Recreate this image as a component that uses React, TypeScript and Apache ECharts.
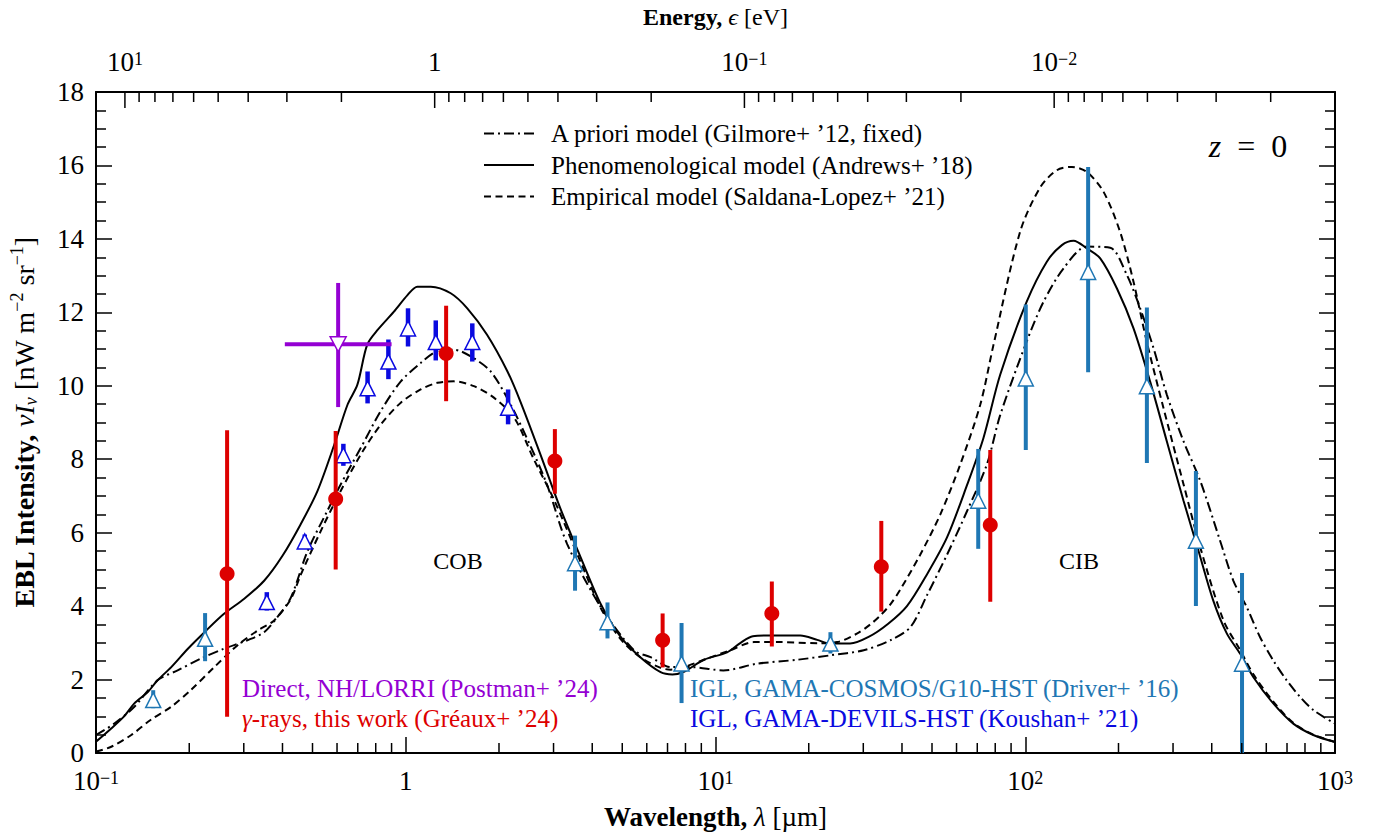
import React, { useEffect, useRef } from 'react';
import * as echarts from 'echarts';

const FONT = '"Liberation Serif", "DejaVu Serif", serif';

// ---- Model curves: wavelength [um], intensity [nW m^-2 sr^-1]
const gilmoreWl = [0.1, 0.1146, 0.133, 0.158, 0.1834, 0.218, 0.259, 0.308, 0.349, 0.385, 0.426, 0.482, 0.558, 0.617, 0.716, 0.83, 0.964, 1.117, 1.265, 1.432, 1.622, 1.88, 2.18, 2.53, 2.86, 3.32, 4.26, 5.45, 6.17, 7.16, 8.3, 10.6, 13.6, 18.4, 23.5, 30.1, 36.7, 42.6, 48.2, 55.9, 64.9, 75.2, 83.0, 101.1, 114.6, 133.0, 158.1, 188.0, 212.8, 234.9, 259.4, 286.4, 324.3, 367.3, 425.6, 469.9, 519.0, 572.5, 632.0, 698.2, 771.0, 851.1, 1000];
const gilmoreI = [0.49, 0.8, 1.26, 1.98, 2.25, 2.57, 2.84, 3.07, 3.29, 3.7, 4.24, 5.5, 6.59, 7.32, 8.31, 9.31, 10.12, 10.62, 10.94, 10.98, 10.8, 10.39, 9.49, 8.35, 7.3, 5.69, 3.98, 2.8, 2.61, 2.34, 2.34, 2.25, 2.43, 2.54, 2.66, 2.8, 3.07, 3.43, 4.3, 5.4, 6.59, 7.86, 9.2, 11.21, 12.29, 13.2, 13.79, 13.76, 13.02, 12.11, 11.03, 9.76, 8.49, 7.41, 5.78, 4.69, 3.97, 3.16, 2.52, 1.98, 1.53, 1.17, 0.8];

const andrewsWl = [0.1, 0.112, 0.123, 0.133, 0.147, 0.158, 0.175, 0.198, 0.224, 0.259, 0.301, 0.349, 0.4, 0.458, 0.519, 0.588, 0.649, 0.698, 0.751, 0.811, 0.916, 1.013, 1.09, 1.205, 1.397, 1.58, 1.83, 2.13, 2.35, 2.73, 3.16, 3.67, 4.26, 4.94, 5.73, 6.65, 7.26, 7.94, 9.17, 10.9, 12.05, 13.2, 15.0, 18.8, 21.3, 23.5, 27.2, 31.2, 36.1, 41.5, 48.2, 55.9, 64.9, 73.3, 83.0, 101.1, 117.4, 131.3, 143.2, 158.1, 174.6, 197.7, 223.5, 252.9, 286.4, 324.3, 362.4, 404.6, 447.7, 494.3, 544.6, 632.0, 733.3, 851.1, 1000];
const andrewsI = [0.31, 0.67, 0.99, 1.35, 1.66, 1.98, 2.34, 2.84, 3.29, 3.79, 4.2, 4.69, 5.37, 6.23, 7.14, 8.4, 9.49, 10.03, 11.12, 11.52, 12.02, 12.47, 12.7, 12.7, 12.52, 12.11, 11.39, 10.39, 9.55, 8.1, 6.65, 5.33, 4.06, 3.16, 2.6, 2.2, 2.14, 2.22, 2.54, 2.74, 3.0, 3.18, 3.2, 3.2, 3.08, 2.98, 2.98, 3.16, 3.52, 4.0, 4.87, 5.87, 7.3, 8.58, 10.3, 12.29, 13.38, 13.83, 13.95, 13.74, 13.47, 12.65, 11.57, 10.12, 8.49, 6.87, 5.51, 4.15, 3.25, 2.7, 2.07, 1.35, 0.8, 0.49, 0.3];

const saldanaWl = [0.1, 0.112, 0.13, 0.15, 0.175, 0.202, 0.241, 0.286, 0.333, 0.376, 0.426, 0.458, 0.532, 0.617, 0.716, 0.83, 0.964, 1.117, 1.265, 1.432, 1.66, 1.93, 2.24, 2.59, 3.01, 3.67, 4.26, 4.94, 5.73, 6.65, 7.16, 7.91, 9.4, 11.17, 13.3, 16.2, 21.3, 24.7, 28.6, 31.6, 34.1, 36.7, 39.5, 45.8, 53.2, 61.7, 71.6, 78.9, 96.3, 111.7, 126.5, 141.5, 158.1, 179.0, 202.4, 223.5, 246.6, 279.3, 324.3, 367.3, 436.5, 494.3, 544.6, 632.0, 733.3, 851.1, 1000];
const saldanaI = [0.04, 0.17, 0.49, 0.9, 1.26, 1.71, 2.34, 2.93, 3.34, 3.61, 4.2, 4.85, 6.05, 7.14, 8.13, 8.94, 9.54, 9.9, 10.08, 10.12, 9.99, 9.67, 9.13, 8.0, 6.9, 5.2, 3.95, 3.1, 2.6, 2.32, 2.27, 2.34, 2.57, 2.8, 3.02, 3.02, 2.99, 3.02, 3.25, 3.5, 3.75, 4.05, 4.45, 5.4, 6.5, 7.86, 9.49, 11.1, 14.2, 15.4, 15.87, 15.96, 15.82, 15.28, 14.19, 12.84, 11.21, 9.4, 7.32, 5.6, 3.61, 2.8, 2.15, 1.4, 0.82, 0.5, 0.3];

// ---- Data points
const grWl = [0.265, 0.594, 1.35, 3.03, 6.75, 15.2, 34.3, 77.1];
const grI = [4.88, 6.92, 10.88, 7.95, 3.07, 3.8, 5.07, 6.21];
const grLo = [0.99, 5.0, 9.58, 7.06, 2.33, 2.9, 3.85, 4.12];
const grHi = [8.79, 8.77, 12.18, 8.82, 3.8, 4.67, 6.32, 8.25];

const lorriWl = [0.605];
const lorriI = [11.13];
const lorriLo = [9.42];
const lorriHi = [12.8];
const lorriWlLo = [0.407];
const lorriWlHi = [0.9];

const koushanWl = [0.356, 0.472, 0.629, 0.753, 0.879, 1.017, 1.25, 1.64, 2.14];
const koushanI = [4.11, 5.76, 8.11, 9.93, 10.66, 11.56, 11.19, 11.19, 9.4];
const koushanLo = [3.88, 5.6, 7.82, 9.52, 10.18, 11.07, 10.69, 10.66, 8.95];
const koushanHi = [4.38, 5.95, 8.42, 10.39, 11.26, 12.11, 11.78, 11.7, 9.9];

const driverWl = [0.153, 0.225, 3.52, 4.48, 7.77, 23.5, 70.5, 100.4, 159.6, 247, 355.6, 501];
const driverI = [1.44, 3.11, 5.17, 3.56, 2.44, 2.98, 6.87, 10.2, 13.1, 9.99, 5.78, 2.43];
const driverLo = [1.22, 2.5, 4.42, 3.12, 1.36, 2.71, 5.56, 8.25, 10.37, 7.9, 4.0, 0];
const driverHi = [1.71, 3.81, 5.92, 4.1, 3.54, 3.29, 8.28, 12.21, 15.96, 12.13, 7.68, 4.9];

// ---- Axis ticks
const wlMinorTicks = [0.2, 0.3, 0.4, 0.5, 0.6, 0.7, 0.8, 0.9, 2, 3, 4, 5, 6, 7, 8, 9, 20, 30, 40, 50, 60, 70, 80, 90, 200, 300, 400, 500, 600, 700, 800, 900];
const eMajorTicks = [10, 1, 0.1, 0.01];
const eMinorTicks = [9, 8, 7, 6, 5, 4, 3, 2, 0.9, 0.8, 0.7, 0.6, 0.5, 0.4, 0.3, 0.2, 0.09, 0.08, 0.07, 0.06, 0.05, 0.04, 0.03, 0.02, 0.009, 0.008, 0.007, 0.006, 0.005, 0.004, 0.003, 0.002];
const HC = 1.23984; // eV um

const RED = '#dd0000';
const PURPLE = '#9400d3';
const LBLUE = '#1f77b4';
const DBLUE = '#0a0ae0';

const LEG = [
  'A priori model (Gilmore+ ’12, fixed)',
  'Phenomenological model (Andrews+ ’18)',
  'Empirical model (Saldana-Lopez+ ’21)',
];

const pairs = (a: number[], b: number[]) => a.map((v, i) => [v, b[i]]);

const tickRich = {
  n: { fontSize: 27, fontFamily: FONT, color: '#000', lineHeight: 24 },
  s: { fontSize: 18, fontFamily: FONT, color: '#000', verticalAlign: 'top', lineHeight: 13 },
};
const powLabel = (v: number) => {
  const e = Math.round(Math.log10(v));
  if (e === 0) return '{n|1}';
  return `{n|10}{s|${e < 0 ? '−' : ''}${Math.abs(e)}}`;
};

function errSeries(wl: number[], lo: number[], hi: number[], color: string, width: number, z: number) {
  return {
    type: 'custom',
    xAxisIndex: 0,
    yAxisIndex: 0,
    z,
    silent: true,
    data: wl.map((w, i) => [w, lo[i], hi[i]]),
    encode: { x: 0, y: [1, 2] },
    renderItem: (_p: any, api: any) => {
      const a = api.coord([api.value(0), api.value(1)]);
      const b = api.coord([api.value(0), api.value(2)]);
      return { type: 'line', shape: { x1: a[0], y1: a[1], x2: b[0], y2: b[1] }, style: { stroke: color, lineWidth: width } };
    },
  };
}

function tickSeries(vals: number[], xAxisIndex: number, yVal: number, dir: number, len: number) {
  return {
    type: 'custom',
    xAxisIndex,
    yAxisIndex: 0,
    z: 20,
    silent: true,
    data: vals.map((v) => [v, yVal]),
    encode: { x: 0, y: 1 },
    renderItem: (_p: any, api: any) => {
      const a = api.coord([api.value(0), api.value(1)]);
      return { type: 'line', shape: { x1: a[0], y1: a[1], x2: a[0], y2: a[1] + dir * len }, style: { stroke: '#000', lineWidth: 1.5 } };
    },
  };
}

const nameRich = (size: number) => ({
  b: { fontFamily: FONT, fontSize: size, fontWeight: 'bold', color: '#000' },
  i: { fontFamily: FONT, fontSize: size, fontStyle: 'italic', color: '#000' },
  r: { fontFamily: FONT, fontSize: size, color: '#000' },
});

function buildOption(): any {
  const yCommon = {
    type: 'value',
    min: 0,
    max: 18,
    interval: 2,
    axisLine: { show: true, onZero: false, lineStyle: { color: '#000', width: 2 } },
    axisTick: { show: true, inside: true, length: 16, lineStyle: { color: '#000', width: 1.5 } },
    minorTick: { show: true, splitNumber: 4, length: 10, lineStyle: { color: '#000', width: 1.5 } },
    splitLine: { show: false },
  };
  return {
    animation: false,
    backgroundColor: '#fff',
    grid: { left: 95, right: 52, top: 89, bottom: 87, containLabel: false },
    legend: {
      data: LEG,
      orient: 'vertical',
      left: 478,
      top: 116,
      itemWidth: 50,
      itemHeight: 14,
      itemGap: 6.5,
      selectedMode: false,
      itemStyle: { color: 'rgba(0,0,0,0)', borderColor: 'rgba(0,0,0,0)', borderWidth: 0, opacity: 0 },
      textStyle: { fontFamily: FONT, fontSize: 25, color: '#000', lineHeight: 25, padding: [0, 0, 0, 12] },
    },
    xAxis: [
      {
        type: 'log',
        logBase: 10,
        min: 0.1,
        max: 1000,
        position: 'bottom',
        axisLine: { show: true, onZero: false, lineStyle: { color: '#000', width: 2 } },
        axisTick: { show: true, inside: true, length: 16, lineStyle: { color: '#000', width: 1.5 } },
        splitLine: { show: false },
        axisLabel: { formatter: powLabel, rich: tickRich, margin: 16, color: '#000' },
        name: '{b|Wavelength,} {i|λ} {r|[µm]}',
        nameLocation: 'middle',
        nameGap: 50,
        nameTextStyle: { fontFamily: FONT, fontSize: 27, color: '#000', rich: nameRich(27) },
      },
      {
        type: 'log',
        logBase: 10,
        min: HC / 1000,
        max: HC / 0.1,
        inverse: true,
        position: 'top',
        axisLine: { show: true, onZero: false, lineStyle: { color: '#000', width: 2 } },
        axisTick: { show: false },
        splitLine: { show: false },
        axisLabel: { formatter: powLabel, rich: tickRich, margin: 18, color: '#000', showMinLabel: false, showMaxLabel: false },
        name: '{b|Energy,} {i|ϵ} {r|[eV]}',
        nameLocation: 'middle',
        nameGap: 63,
        nameTextStyle: { fontFamily: FONT, fontSize: 24, color: '#000', rich: nameRich(24) },
      },
    ],
    yAxis: [
      {
        ...yCommon,
        position: 'left',
        axisLabel: { fontFamily: FONT, fontSize: 27, color: '#000', margin: 12, lineHeight: 18 },
        name: '{b|EBL Intensity,} {i|νI}{sub|ν} {r|[nW m}{sup|−2}{r| sr}{sup|−1}{r|]}',
        nameLocation: 'middle',
        nameRotate: 90,
        nameGap: 56,
        nameTextStyle: {
          fontFamily: FONT,
          fontSize: 28,
          color: '#000',
          rich: {
            b: { fontFamily: FONT, fontSize: 28, fontWeight: 'bold', color: '#000', lineHeight: 32 },
            i: { fontFamily: FONT, fontSize: 28, fontStyle: 'italic', color: '#000', lineHeight: 32 },
            r: { fontFamily: FONT, fontSize: 28, color: '#000', lineHeight: 32 },
            sub: { fontFamily: FONT, fontSize: 18, fontStyle: 'italic', color: '#000', verticalAlign: 'bottom', lineHeight: 15 },
            sup: { fontFamily: FONT, fontSize: 18, color: '#000', verticalAlign: 'top', lineHeight: 15 },
          },
        },
      },
      { ...yCommon, position: 'right', axisLabel: { show: false } },
    ],
    series: [
      {
        type: 'line', name: LEG[0], data: pairs(gilmoreWl, gilmoreI), symbol: 'none', smooth: 0.3, z: 2, silent: true,
        itemStyle: { color: '#000' }, lineStyle: { color: '#000', width: 2, type: [10, 4, 2, 4] },
      },
      {
        type: 'line', name: LEG[1], data: pairs(andrewsWl, andrewsI), symbol: 'none', smooth: 0.3, z: 2, silent: true,
        itemStyle: { color: '#000' }, lineStyle: { color: '#000', width: 2, type: 'solid' },
      },
      {
        type: 'line', name: LEG[2], data: pairs(saldanaWl, saldanaI), symbol: 'none', smooth: 0.3, z: 2, silent: true,
        itemStyle: { color: '#000' }, lineStyle: { color: '#000', width: 2, type: [7, 4.5] },
      },
      // error bars
      errSeries(driverWl, driverLo, driverHi, LBLUE, 4, 3),
      errSeries(koushanWl, koushanLo, koushanHi, DBLUE, 4.5, 3),
      errSeries(lorriWl, lorriLo, lorriHi, PURPLE, 4, 3),
      {
        type: 'custom', xAxisIndex: 0, yAxisIndex: 0, z: 3, silent: true,
        data: lorriWl.map((_w, i) => [lorriWlLo[i], lorriWlHi[i], lorriI[i]]),
        encode: { x: [0, 1], y: 2 },
        renderItem: (_p: any, api: any) => {
          const a = api.coord([api.value(0), api.value(2)]);
          const b = api.coord([api.value(1), api.value(2)]);
          return { type: 'line', shape: { x1: a[0], y1: a[1], x2: b[0], y2: b[1] }, style: { stroke: PURPLE, lineWidth: 4 } };
        },
      },
      errSeries(grWl, grLo, grHi, RED, 4, 5),
      // markers
      {
        type: 'scatter', data: pairs(driverWl, driverI), symbol: 'triangle', symbolSize: [15, 15], z: 4, silent: true,
        itemStyle: { color: '#fff', borderColor: LBLUE, borderWidth: 1.5, opacity: 1 },
      },
      {
        type: 'scatter', data: pairs(koushanWl, koushanI), symbol: 'triangle', symbolSize: [15, 15], z: 4, silent: true,
        itemStyle: { color: '#fff', borderColor: DBLUE, borderWidth: 1.5, opacity: 1 },
      },
      {
        type: 'scatter', data: pairs(lorriWl, lorriI), symbol: 'triangle', symbolRotate: 180, symbolSize: [16, 15], z: 4, silent: true,
        itemStyle: { color: '#fff', borderColor: PURPLE, borderWidth: 1.5, opacity: 1 },
      },
      {
        type: 'scatter', data: pairs(grWl, grI), symbol: 'circle', symbolSize: 15, z: 6, silent: true,
        itemStyle: { color: RED, opacity: 1 },
      },
      // axis minor ticks (bottom, wavelength) and top energy ticks
      tickSeries(wlMinorTicks, 0, 0, -1, 10),
      tickSeries(eMajorTicks, 1, 18, 1, 16),
      tickSeries(eMinorTicks, 1, 18, 1, 10),
    ],
    graphic: [
      { type: 'text', x: 458, y: 561, z: 50, style: { text: 'COB', fontFamily: FONT, fontSize: 24, fill: '#000', align: 'center', verticalAlign: 'middle', textAlign: 'center', textVerticalAlign: 'middle' } },
      { type: 'text', x: 1079, y: 561, z: 50, style: { text: 'CIB', fontFamily: FONT, fontSize: 24, fill: '#000', align: 'center', verticalAlign: 'middle', textAlign: 'center', textVerticalAlign: 'middle' } },
      {
        type: 'text', x: 1248, y: 146, z: 50,
        style: {
          text: '{i|z}  =  0', fontFamily: FONT, fontSize: 32, fill: '#000', align: 'center', verticalAlign: 'middle', textAlign: 'center', textVerticalAlign: 'middle',
          rich: { i: { fontFamily: FONT, fontSize: 32, fontStyle: 'italic', fill: '#000' } },
        },
      },
      { type: 'text', x: 242, y: 688, z: 50, style: { text: 'Direct, NH/LORRI (Postman+ ’24)', fontFamily: FONT, fontSize: 25, fill: PURPLE, align: 'left', verticalAlign: 'middle', textAlign: 'left', textVerticalAlign: 'middle' } },
      {
        type: 'text', x: 242, y: 718, z: 50,
        style: {
          text: '{i|γ}-rays, this work (Gréaux+ ’24)', fontFamily: FONT, fontSize: 25, fill: RED, align: 'left', verticalAlign: 'middle', textAlign: 'left', textVerticalAlign: 'middle',
          rich: { i: { fontFamily: FONT, fontSize: 25, fontStyle: 'italic', fill: RED } },
        },
      },
      { type: 'text', x: 690, y: 688, z: 50, style: { text: 'IGL, GAMA-COSMOS/G10-HST (Driver+ ’16)', fontFamily: FONT, fontSize: 25, fill: LBLUE, align: 'left', verticalAlign: 'middle', textAlign: 'left', textVerticalAlign: 'middle' } },
      { type: 'text', x: 690, y: 718, z: 50, style: { text: 'IGL, GAMA-DEVILS-HST (Koushan+ ’21)', fontFamily: FONT, fontSize: 25, fill: DBLUE, align: 'left', verticalAlign: 'middle', textAlign: 'left', textVerticalAlign: 'middle' } },
    ],
  };
}

export default function App() {
  const ref = useRef<HTMLDivElement>(null);
  useEffect(() => {
    const chart = echarts.init(ref.current as HTMLDivElement, null, { renderer: 'svg' });
    chart.setOption(buildOption());
    return () => chart.dispose();
  }, []);
  return <div ref={ref} style={{ position: 'absolute', left: 0, top: 0, width: 1387, height: 840, background: '#fff' }} />;
}
